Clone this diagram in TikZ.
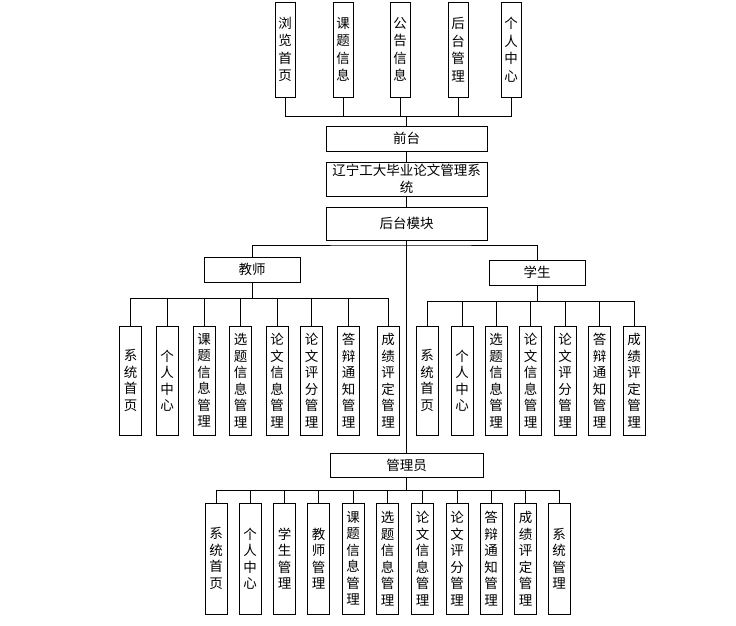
\documentclass[tikz,border=0pt]{standalone}
\usepackage{fontspec}
\setmainfont{Noto Sans CJK SC}
\begin{document}
\begin{tikzpicture}[x=1pt,y=-1pt,line width=0.8pt,
  box/.style={draw,inner sep=0pt,align=center,font=\fontsize{13.5}{16.5}\selectfont},
  topbox/.style={box,minimum width=20,minimum height=95,font=\fontsize{13.5}{17.5}\selectfont},
  vbox/.style={box,minimum width=22,minimum height=109},
  gbox/.style={box,minimum width=22,minimum height=111}]
\useasboundingbox (0,0) rectangle (736,626);
% front pages
\node[topbox] (f1) at (285,49.5) {浏\\览\\首\\页};
\node[topbox] (f2) at (343,49.5) {课\\题\\信\\息};
\node[topbox] (f3) at (400,49.5) {公\\告\\信\\息};
\node[topbox] (f4) at (458,49.5) {后\\台\\管\\理};
\node[topbox] (f5) at (511,49.5) {个\\人\\中\\心};
\node[box,minimum width=161,minimum height=25] (qt) at (406.5,138.5) {前台};
\node[box,minimum width=161,minimum height=34] (xt) at (406.5,179) {辽宁工大毕业论文管理系\\统};
\node[box,minimum width=161,minimum height=33] (ht) at (406.5,223.5) {后台模块};
\coordinate (qtbus) at (406.5,116);
\draw (f1.south) |- (qtbus);
\draw (f2.south) |- (qtbus);
\draw (f3.south) |- (qtbus);
\draw (f4.south) |- (qtbus);
\draw (f5.south) |- (qtbus);
\draw (qtbus) -- (qt.north);
\draw (qt.south) -- (xt.north);
\draw (xt.south) -- (ht.north);
% teacher and student
\node[box,minimum width=96,minimum height=25] (js) at (252,269.5) {教师};
\node[box,minimum width=96,minimum height=25] (xs) at (537,272.5) {学生};
\coordinate (hbus) at (406.5,245);
\draw (js.north) |- (hbus) -| (xs.north);
\node[vbox] (j1) at (130.5,380.5) {系\\统\\首\\页};
\node[vbox] (j2) at (167,380.5) {个\\人\\中\\心};
\node[vbox] (j3) at (204,380.5) {课\\题\\信\\息\\管\\理};
\node[vbox] (j4) at (240.5,380.5) {选\\题\\信\\息\\管\\理};
\node[vbox] (j5) at (277,380.5) {论\\文\\信\\息\\管\\理};
\node[vbox] (j6) at (311.5,380.5) {论\\文\\评\\分\\管\\理};
\node[vbox] (j7) at (348.5,380.5) {答\\辩\\通\\知\\管\\理};
\node[vbox] (j8) at (388,380.5) {成\\绩\\评\\定\\管\\理};
\coordinate (jsbus) at (252,298);
\draw (js.south) -- (jsbus);
\draw (j1.north) |- (jsbus);
\draw (j2.north) |- (jsbus);
\draw (j3.north) |- (jsbus);
\draw (j4.north) |- (jsbus);
\draw (j5.north) |- (jsbus);
\draw (j6.north) |- (jsbus);
\draw (j7.north) |- (jsbus);
\draw (j8.north) |- (jsbus);
\node[vbox] (s1) at (427,380.5) {系\\统\\首\\页};
\node[vbox] (s2) at (462,380.5) {个\\人\\中\\心};
\node[vbox] (s3) at (496,380.5) {选\\题\\信\\息\\管\\理};
\node[vbox] (s4) at (530.5,380.5) {论\\文\\信\\息\\管\\理};
\node[vbox] (s5) at (565,380.5) {论\\文\\评\\分\\管\\理};
\node[vbox] (s6) at (599.5,380.5) {答\\辩\\通\\知\\管\\理};
\node[vbox] (s7) at (634,380.5) {成\\绩\\评\\定\\管\\理};
\coordinate (xsbus) at (537,301);
\draw (xs.south) -- (xsbus);
\draw (s1.north) |- (xsbus);
\draw (s2.north) |- (xsbus);
\draw (s3.north) |- (xsbus);
\draw (s4.north) |- (xsbus);
\draw (s5.north) |- (xsbus);
\draw (s6.north) |- (xsbus);
\draw (s7.north) |- (xsbus);
% admin
\node[box,minimum width=153,minimum height=24] (gly) at (406.5,465) {管理员};
\draw (ht.south) -- (gly.north);
\node[gbox] (g1) at (216,558.5) {系\\统\\首\\页};
\node[gbox] (g2) at (250,558.5) {个\\人\\中\\心};
\node[gbox] (g3) at (284.5,558.5) {学\\生\\管\\理};
\node[gbox] (g4) at (318.5,558.5) {教\\师\\管\\理};
\node[gbox] (g5) at (353,558.5) {课\\题\\信\\息\\管\\理};
\node[gbox] (g6) at (387.5,558.5) {选\\题\\信\\息\\管\\理};
\node[gbox] (g7) at (422.5,558.5) {论\\文\\信\\息\\管\\理};
\node[gbox] (g8) at (457,558.5) {论\\文\\评\\分\\管\\理};
\node[gbox] (g9) at (491,558.5) {答\\辩\\通\\知\\管\\理};
\node[gbox] (g10) at (525.5,558.5) {成\\绩\\评\\定\\管\\理};
\node[gbox] (g11) at (559,558.5) {系\\统\\管\\理};
\coordinate (glybus) at (406.5,490);
\draw (gly.south) -- (glybus);
\draw (g1.north) |- (glybus);
\draw (g2.north) |- (glybus);
\draw (g3.north) |- (glybus);
\draw (g4.north) |- (glybus);
\draw (g5.north) |- (glybus);
\draw (g6.north) |- (glybus);
\draw (g7.north) |- (glybus);
\draw (g8.north) |- (glybus);
\draw (g9.north) |- (glybus);
\draw (g10.north) |- (glybus);
\draw (g11.north) |- (glybus);
\end{tikzpicture}
\end{document}
